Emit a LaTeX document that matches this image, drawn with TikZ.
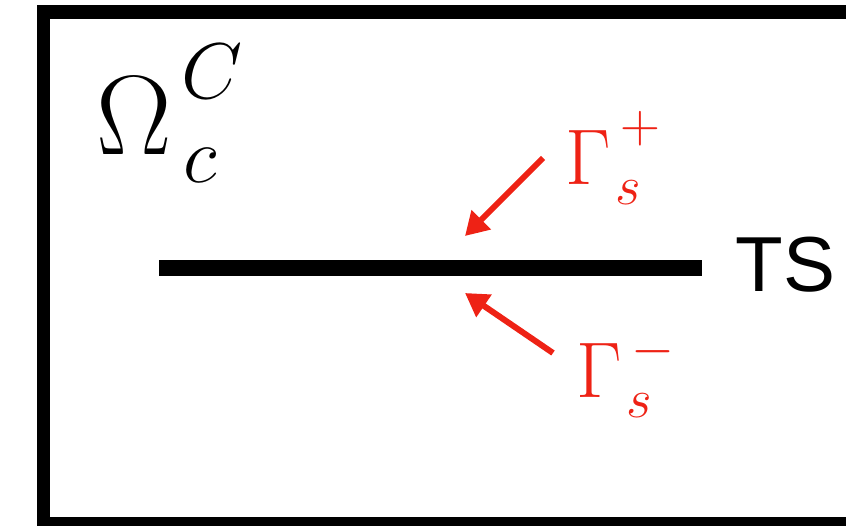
\RequirePackage{fix-cm}
\documentclass[tikz,border=0pt]{standalone}
\usepackage{amsmath,amssymb}
\usepackage{fontspec}
\usepackage{xcolor}
\usepackage{tikz}
\usetikzlibrary{arrows.meta,positioning,calc}
\newfontfamily\labelsans{Liberation Sans}
\definecolor{bndred}{HTML}{EE2215}
% raised script, for the tall superscripts of the labels
\newcommand{\upscript}[3]{\kern#1\raisebox{#2}{$\scriptstyle #3$}}

\begin{document}
\begin{tikzpicture}[x=1pt,y=-1pt,
    redarrow/.style={bndred,line width=6pt,-{Triangle[length=23pt,width=26pt]}},
    redlabel/.style={bndred,inner sep=0pt,anchor=base west,font=\fontsize{79}{90}\selectfont}]
        \useasboundingbox (0,0) rectangle (846,526);
        \clip (0,0) rectangle (846,526);
        % domain box (cut at right edge)
        \draw[line width=13.5pt] (43.5,12) rectangle (880,524);
        \node[inner sep=0pt,anchor=base west,font=\fontsize{113}{130}\selectfont]
              (omega) at (96,155) {$\Omega_{\kern12pt c}^{\upscript{10pt}{15pt}{C}}$};
        % surface
        \coordinate (sl) at (159,268);
        \coordinate (sr) at (702,268);
        \draw[line width=16pt] (sl) -- (sr);
        \node[right=30pt of sr,yshift=3pt,font=\labelsans\fontsize{78}{90}\selectfont]
              (ts) {TS};
        % sides of the surface
        \node[redlabel] (gplus) at (565,185)
              {$\Gamma_{\kern5pt s}^{\upscript{10pt}{14pt}{+}}$};
        \node[redlabel] (gminus) at (576,398)
              {$\Gamma_{\kern5pt s}^{\upscript{10pt}{4pt}{-}}$};
        \coordinate (ptail) at (543,158);
        \coordinate (ptip) at (465,236);
        \coordinate (mtail) at (553,353);
        \coordinate (mtip) at (465,293);
        \draw[redarrow] (ptail) -- (ptip);
        \draw[redarrow] (mtail) -- (mtip);
      \end{tikzpicture}
\end{document}
